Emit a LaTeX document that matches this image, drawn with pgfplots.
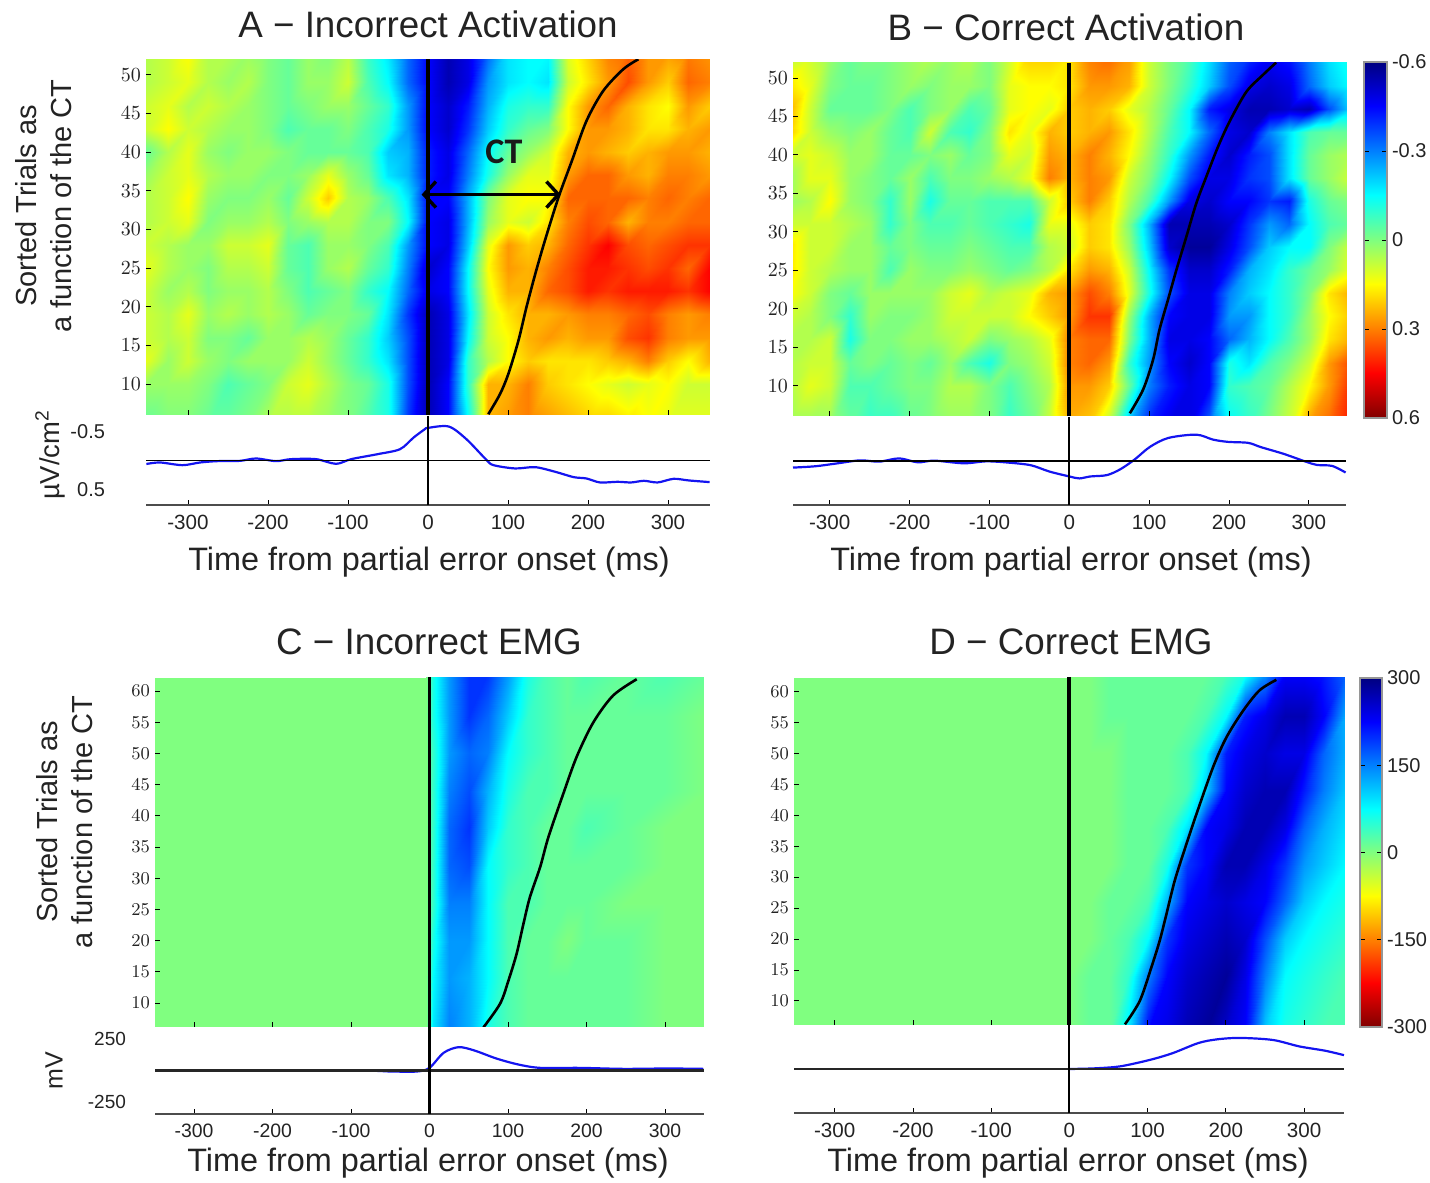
\documentclass[border=0pt]{standalone}
\usepackage{fontspec}
\setmainfont{Liberation Sans}
\newfontfamily\ctfont{Carlito}
\usepackage{pgfplots}
\usepackage{pgfplotstable}
\pgfplotsset{compat=1.18}
\usetikzlibrary{arrows.meta}
\definecolor{txt}{RGB}{35,35,35}
\definecolor{gfr}{RGB}{150,150,150}
\definecolor{wblue}{RGB}{20,20,240}
\definecolor{bgg}{RGB}{128,255,128}

\pgfplotstableread[header=false]{
0 -353 -325 -300 -275 -250 -225 -200 -175 -150 -125 -100 -75 -50 -25 0 25 50 75 100 125 150 175 200 225 250 275 300 325 353
53 2 3 5 2 2 1 0 -1 1 0 2 -3 -6 -11 -15 -18 -16 -11 -6 -5 -5 4 7 10 11 9 9 10 9
49 2 3 4 2 1 2 0 -1 1 1 3 -2 -5 -11 -15 -18 -16 -9 -6 -5 -6 3 6 9 12 9 7 11 10
46 3 4 2 3 2 1 0 -1 0 1 1 -1 -3 -9 -15 -17 -14 -8 -4 -3 -3 5 9 11 8 6 5 9 7
43 3 5 3 2 1 1 0 -2 -1 -1 0 -2 -4 -9 -15 -17 -13 -7 -3 -1 0 5 9 9 8 6 6 8 9
40 -1 2 4 1 0 1 1 0 -1 -1 -1 -2 -7 -8 -14 -16 -11 -5 -1 1 3 8 9 8 7 8 9 9 8
37 1 3 4 2 1 1 0 0 1 4 1 -1 -6 -8 -14 -16 -10 -4 1 4 4 9 11 11 9 8 10 10 9
34 2 3 5 1 0 0 1 -1 3 7 2 1 -2 -6 -15 -15 -8 0 4 5 5 11 11 11 11 10 11 10 11
31 2 3 4 0 1 1 2 0 1 2 2 0 0 -5 -15 -16 -8 1 4 3 6 10 12 11 8 10 10 11 11
28 3 2 1 1 3 3 4 -1 -2 1 1 0 -2 -9 -15 -16 -7 4 9 7 8 11 13 15 12 11 12 13 13
25 4 2 1 0 2 2 3 -1 -2 1 2 -1 -3 -10 -17 -15 -5 5 9 8 10 12 14 14 13 12 13 11 15
22 3 1 2 0 1 1 2 0 -2 -1 0 -3 -5 -11 -16 -15 -5 4 8 8 11 12 14 13 14 14 14 13 15
19 3 2 4 1 2 1 2 1 -1 0 0 -1 -6 -13 -18 -16 -6 3 6 8 8 9 10 10 11 12 10 9 10
16 3 2 3 0 0 -1 1 1 2 1 -1 -3 -7 -12 -18 -16 -5 3 5 8 9 8 9 9 12 13 10 9 9
13 4 1 3 1 0 1 1 1 3 1 -1 -3 -6 -12 -18 -16 -3 2 5 7 6 6 6 7 8 10 7 5 8
10 1 1 1 0 -2 -1 0 3 4 2 0 -1 -4 -12 -18 -15 -3 8 8 10 7 6 5 4 3 4 5 3 3
5 -1 0 0 -1 -1 0 2 2 2 1 0 -2 -4 -13 -18 -15 -5 8 9 10 9 8 7 7 6 5 4 4 4
}\tabA

\pgfplotstableread[header=false]{
0 -350 -325 -300 -275 -250 -225 -200 -175 -150 -125 -100 -75 -50 -25 0 25 50 75 100 125 150 175 200 225 250 275 300 325 350
53 2 3 1 -1 0 0 1 2 1 2 0 3 7 7 6 10 11 9 3 0 -2 -6 -11 -13 -15 -14 -10 -6 -4
49 6 4 0 -1 -1 0 1 0 1 1 0 4 5 5 6 9 9 8 3 0 -3 -7 -12 -16 -17 -16 -11 -7 -5
46 8 3 -1 -1 -1 0 -2 0 1 -2 -1 4 5 4 7 8 7 4 2 -1 -5 -14 -16 -18 -18 -17 -18 -12 -7
43 7 3 1 0 1 -1 -2 3 -2 -3 0 6 4 8 7 8 9 6 2 -2 -5 -11 -16 -17 -10 -6 -2 -1 -1
40 3 4 3 1 1 -1 -1 0 1 -1 0 4 3 9 8 10 8 5 1 -3 -9 -14 -17 -14 -12 -6 -1 1 2
37 1 4 4 1 0 -1 1 -2 0 0 1 2 4 10 8 10 9 3 0 -5 -12 -16 -16 -13 -12 -6 -1 1 3
34 1 2 5 1 0 -3 1 -4 -1 -1 -2 -2 -2 3 7 10 7 2 -2 -9 -16 -17 -15 -15 -13 -14 -4 -1 0
31 3 3 3 2 1 -3 0 -2 -2 -1 -2 -3 -4 4 4 7 6 0 -8 -18 -18 -18 -17 -13 -9 -11 -5 -2 -1
28 6 3 3 1 1 -1 0 -1 -1 0 -1 -2 -2 2 3 7 6 1 -7 -17 -19 -19 -16 -12 -7 -5 -5 0 3
25 6 3 2 1 1 -2 1 0 0 1 0 -1 0 2 6 9 8 3 -5 -13 -17 -17 -14 -8 -6 -3 -1 1 4
22 5 3 0 -1 1 1 1 1 3 4 2 3 4 8 9 12 10 4 -4 -12 -16 -16 -10 -7 -5 -3 0 6 8
19 3 2 0 -3 1 0 0 1 3 3 3 3 5 7 9 13 13 1 -8 -15 -16 -16 -9 -9 -5 -3 1 5 7
16 2 2 3 -4 0 0 1 1 2 3 0 1 2 4 10 11 11 0 -8 -16 -16 -15 -11 -8 -5 -2 1 6 8
13 2 3 3 -1 0 -1 0 -1 1 -2 -4 0 1 3 10 11 9 -3 -9 -15 -17 -15 -4 -6 -2 0 3 9 12
10 2 4 3 -2 -2 -1 0 0 2 2 0 -2 0 2 9 9 7 -1 -10 -14 -16 -15 -3 -2 -1 2 5 9 13
5 1 1 1 -1 -3 -3 -1 0 1 1 0 -3 -1 3 8 7 2 -8 -14 -16 -16 -11 -5 -3 0 3 9 11 14
}\tabB

\pgfplotstableread[header=false]{
0 -4 5 25 50 75 100 125 150 175 200 250 300 352
63 0 -4 -9 -13 -13 -9 -4 -2 -1 -2 -1 -2 -1
56 0 -4 -9 -13 -11 -7 -3 -2 -1 -1 -1 -1 0
50 0 -3 -9 -11 -10 -5 -3 -2 -1 -1 -1 -1 0
44 0 -3 -10 -12 -8 -4 -2 -2 -1 -1 -1 -1 0
38 0 -3 -11 -13 -7 -3 -2 -1 -1 -2 -1 0 0
32 0 -3 -11 -12 -5 -3 -2 -1 -1 -1 -1 0 0
26 0 -3 -10 -10 -5 -2 -2 -1 -1 -1 0 0 0
20 0 -4 -9 -9 -5 -2 -1 -1 0 -1 -1 0 0
14 0 -5 -9 -8 -5 -2 -1 -1 -1 -1 -1 0 0
5 0 -6 -10 -8 -4 -2 -1 -1 -1 -1 -1 0 0
}\tabC

\pgfplotstableread[header=false]{
0 0 25 50 75 100 125 150 175 200 225 250 275 300 325 353
63 0 0 -1 -1 -1 -1 -1 -1 -2 -4 -9 -15 -15 -14 -11
56 0 0 -1 -1 -1 -1 -1 -2 -5 -14 -16 -18 -18 -15 -8
50 0 0 0 -1 -1 -1 -2 -5 -14 -16 -17 -16 -16 -11 -8
44 0 0 0 -1 -1 -1 -2 -7 -15 -17 -18 -18 -14 -10 -7
38 0 0 0 -1 -1 -2 -6 -15 -16 -18 -18 -16 -11 -8 -6
32 0 0 0 -1 -1 -4 -13 -15 -18 -18 -16 -13 -9 -7 -5
26 0 0 -1 -1 -2 -8 -15 -16 -17 -16 -15 -11 -7 -5 -4
20 0 0 -1 -2 -5 -13 -16 -17 -18 -17 -12 -7 -5 -4 -3
14 0 -1 -1 -3 -10 -15 -17 -18 -19 -16 -10 -5 -4 -3 -2
5 0 -1 -1 -6 -15 -16 -18 -19 -17 -15 -7 -4 -3 -2 -2
}\tabD

\pgfplotstableread[header=false]{
0 0 1
-20 -20 -20
-15 -15 -15
-10 -10 -10
-5 -5 -5
0 0 0
5 5 5
10 10 10
15 15 15
20 20 20
}\tabBar

\newcommand\BuildMesh[2]{%
 \pgfplotstablegetrowsof{#1}\pgfmathtruncatemacro\nR{\pgfplotsretval-1}%
 \pgfplotstablegetcolsof{#1}\pgfmathtruncatemacro\nC{\pgfplotsretval-1}%
 \gdef#2{}%
 \pgfplotsforeachungrouped \rr in {1,...,\nR}{%
  \pgfplotstablegetelem{\rr}{[index]0}\of{#1}\let\YY\pgfplotsretval
  \pgfplotsforeachungrouped \cc in {1,...,\nC}{%
   \pgfplotstablegetelem{0}{[index]\cc}\of{#1}\let\XX\pgfplotsretval
   \pgfplotstablegetelem{\rr}{[index]\cc}\of{#1}\let\MM\pgfplotsretval
   \xdef#2{#2 (\XX,\YY) [\MM]}%
  }}}
\BuildMesh{\tabA}{\meshA}
\BuildMesh{\tabB}{\meshB}
\BuildMesh{\tabC}{\meshC}
\BuildMesh{\tabD}{\meshD}
\BuildMesh{\tabBar}{\meshBar}
\newcommand\Heat[2]{\edef\tmpplot{\noexpand\addplot[surf,shader=interp,mesh/cols=#1,point meta=explicit] coordinates {#2};}\tmpplot}

\pgfplotsset{
 every axis/.append style={scale only axis, anchor=south west, colormap/jet,
   point meta min=-20, point meta max=20, tick align=inside,
   major tick length=2.5pt, tick style={black, line width=.4pt},
   ticklabel style={text=txt}},
 heat/.style={axis on top, axis line style={draw=none}, xtick={-300,-200,-100,0,100,200,300},
   xticklabels={}, ytick pos=left, xtick pos=bottom, y tick label style={font=\fontsize{10}{12}\selectfont, xshift=1pt}},
 wave/.style={separate axis lines, axis x line*=bottom, axis y line*=left, y axis line style={draw=none},
   x axis line style={draw=black!70, line width=.7pt}, ytick style={draw=none},
   xtick={-300,-200,-100,0,100,200,300}, xticklabels={-300,-200,-100,0,100,200,300},
   xticklabel style={font=\fontsize{10.3}{12}\selectfont, yshift=-1.5pt}, axis on top=false, clip=false},
 cbar/.style={xtick=\empty, ytick={-20,-10,0,10,20}, yticklabel pos=right, y dir=reverse, xmin=0, xmax=1, ymin=-20, ymax=20,
   axis line style={draw=gfr, line width=.6pt}, axis on top,
   y tick label style={font=\fontsize{10}{12}\selectfont, xshift=-1pt}},
}
\newcommand\CT[1]{\addplot[black, line width=1.3pt, smooth] coordinates {#1};}
\newcommand\Zero[2]{\addplot[black, line width=1.9pt] coordinates {(0,#1)(0,#2)};}
\def\PXW{0.5pt}
\begin{document}
\begin{tikzpicture}[x=1pt,y=1pt]
\path[use as bounding box] (0,0) rectangle (715,591.5);

% ---- A heat
\begin{axis}[heat, at={(73pt,384pt)}, width=282pt, height=177.5pt, xmin=-352.5, xmax=352.5, ymin=6, ymax=51.9, ytick={10,15,...,50}]
\Heat{29}{\meshA}
\Zero{6}{52}
\CT{(75.4,6.1)(90,8.7)(100.4,11.3)(113,15.6)(123,19.9)(134,24.2)(146,28.5)(163,34.1)(180,38.9)(198,44)(219,47.9)(244,50.7)(263,52)}
\draw[{Straight Barb[length=6pt,width=13pt,line width=1.7pt]}-{Straight Barb[length=6pt,width=13pt,line width=1.7pt]}, line width=1.7pt, black] (axis cs:-8,34.5) -- (axis cs:166,34.5);
\node[font=\ctfont\bfseries\fontsize{18}{20}\selectfont, text=black!90] at (axis cs:95,40) {CT};
\end{axis}
% ---- A wave
\begin{axis}[wave, at={(73pt,339pt)}, width=282pt, height=44.5pt, xmin=-352.5, xmax=352.5, ymin=-.76, ymax=.76, y dir=reverse,
  ytick={-.5,.5}, yticklabels={-0.5,0.5}, y tick label style={font=\fontsize{10}{12}\selectfont, xshift=-17pt}]
\addplot[wblue, line width=1.1pt, smooth] coordinates {(-352,.06)(-335,.034)(-307,.08)(-285,.034)(-263,.011)(-235,.006)(-215,-.034)(-190,.011)(-171,-.023)(-140,-.023)(-115,.057)(-96,-.023)(-63,-.108)(-35,-.193)(-18,-.392)(-4,-.534)(0,-.557)(26,-.58)(48,-.364)(73,-.011)(82,.08)(109,.136)(134,.114)(159,.193)(182,.284)(198,.307)(215,.375)(237,.364)(254,.375)(270,.347)(287,.375)(307,.313)(326,.341)(352,.369)};
\addplot[black, line width=.9pt] coordinates {(-352.5,0)(352.5,0)};
\addplot[black, line width=1.1pt] coordinates {(0,-.76)(0,.76)};
\end{axis}

% ---- B heat
\begin{axis}[heat, at={(396.5pt,383.5pt)}, width=276.5pt, height=176.5pt, xmin=-346, xmax=346.5, ymin=6.05, ymax=51.95, ytick={10,15,...,50}]
\Heat{29}{\meshB}
\Zero{6}{52}
\CT{(75.8,6.4)(92.5,9.5)(105,13.4)(113,17.3)(123.7,21.2)(134,25)(146.7,29.4)(159,33.7)(171.7,37.2)(186,41)(201,44.4)(221.7,48.2)(242.5,50.4)(259,52)}
\end{axis}
% ---- B wave
\begin{axis}[wave, at={(396.5pt,339pt)}, width=276.5pt, height=44pt, xmin=-346, xmax=346.5, ymin=-.76, ymax=.76, y dir=reverse, ytick=\empty]
\addplot[wblue, line width=1.1pt, smooth] coordinates {(-346,.114)(-318,.091)(-290,.04)(-262,-.011)(-238,.011)(-213,-.045)(-190,.023)(-169,-.006)(-132,.04)(-104,.006)(-76,.028)(-48,.074)(-25,.182)(0,.267)(12.5,.301)(26.5,.267)(47,.244)(64,.142)(82,-.028)(101,-.244)(124,-.398)(159,-.455)(180,-.369)(199,-.33)(224,-.313)(240,-.239)(268,-.125)(296,.011)(310,.068)(329,.085)(346,.199)};
\addplot[black, line width=.9pt] coordinates {(-346,0)(346.5,0)};
\addplot[black, line width=1.1pt] coordinates {(0,-.76)(0,.76)};
\end{axis}

% ---- top colour bar
\begin{axis}[cbar, at={(682pt,382.5pt)}, width=11.5pt, height=178pt, yticklabels={-0.6,-0.3,0,0.3,0.6}]
\Heat{2}{\meshBar}
\end{axis}

% ---- C heat
\begin{axis}[heat, at={(77.5pt,78pt)}, width=274.5pt, height=174.5pt, xmin=-349.7, xmax=349.7, ymin=6.15, ymax=62.1, ytick={10,15,...,60},
  axis background/.style={fill=bgg}, y tick label style={font=\fontsize{9.3}{11}\selectfont}]
\Heat{13}{\meshC}
\Zero{6}{63}
\CT{(68.8,6.1)(90,9.9)(100.6,13.6)(111,17.9)(119.7,22.7)(128,27)(141,31.8)(151.5,36.6)(170.6,43.6)(187.6,49.5)(208.8,55)(234,59.3)(264,61.9)}
\end{axis}
% ---- C wave
\begin{axis}[wave, at={(77.5pt,34.5pt)}, width=274.5pt, height=43.5pt, xmin=-349.7, xmax=349.7, ymin=-347, ymax=347,
  ytick={-250,250}, yticklabels={-250,250}, y tick label style={font=\fontsize{9.5}{11}\selectfont, xshift=-11pt}, xticklabel style={font=\fontsize{9.7}{12}\selectfont}]
\addplot[wblue, line width=1.1pt, smooth] coordinates {(-349,0)(-100,0)(-49,-8)(-16,-8)(0,21)(18,141)(37,186)(57,160)(85,96)(113,48)(141,21)(191,21)(247,13)(303,16)(349,13)};
\addplot[black!85, line width=1.1pt] coordinates {(-349.7,0)(349.7,0)};
\addplot[black, line width=1.1pt] coordinates {(0,-347)(0,347)};
\end{axis}

% ---- D heat
\begin{axis}[heat, at={(397pt,79pt)}, width=275pt, height=173.5pt, xmin=-352, xmax=351, ymin=6.1, ymax=62.2, ytick={10,15,...,60},
  axis background/.style={fill=bgg}, y tick label style={font=\fontsize{9.3}{11}\selectfont}]
\Heat{15}{\meshD}
\Zero{6}{63}
\CT{(71,6.2)(90,10)(105,15.5)(115.6,19.8)(124,24)(134.8,29.5)(149.7,35.4)(162.4,40.2)(183.7,47.8)(200.7,52.6)(222,56.9)(243,60.2)(264.5,61.9)}
\end{axis}
% ---- D wave
\begin{axis}[wave, at={(397pt,35pt)}, width=275pt, height=44pt, xmin=-352, xmax=351, ymin=-347, ymax=347, ytick=\empty]
\addplot[wblue, line width=1.1pt, smooth] coordinates {(0,0)(32,5)(65,21)(103,72)(132,125)(165,205)(189,234)(218,245)(260,229)(294,178)(327,144)(351,109)};
\addplot[black!85, line width=1.1pt] coordinates {(-352,0)(351,0)};
\addplot[black, line width=1.1pt] coordinates {(0,-347)(0,347)};
\end{axis}

% ---- bottom colour bar
\begin{axis}[cbar, at={(680pt,78pt)}, width=11pt, height=174.5pt, yticklabels={300,150,0,-150,-300}]
\Heat{2}{\meshBar}
\end{axis}

% ---- texts
\tikzset{ttl/.style={font=\fontsize{18.4}{22}\selectfont, text=txt, anchor=center},
  xl/.style={font=\fontsize{16.2}{20}\selectfont, text=txt, anchor=center},
  yl/.style={font=\fontsize{14.5}{17.5}\selectfont, text=txt, anchor=center, rotate=90, align=center}}
\node[ttl] at (214,579.5) {A − Incorrect Activation};
\node[ttl] at (533,578) {B − Correct Activation};
\node[ttl] at (214.5,270.5) {C − Incorrect EMG};
\node[ttl] at (535.5,270.5) {D − Correct EMG};
\node[xl] at (214.5,310.5) {Time from partial error onset (ms)};
\node[xl] at (535.5,310.5) {Time from partial error onset (ms)};
\node[xl] at (214,10) {Time from partial error onset (ms)};
\node[xl] at (534,10) {Time from partial error onset (ms)};
\node[yl] at (22,488.5) {Sorted Trials as\\a function of the CT};
\node[yl] at (32.5,180.5) {Sorted Trials as\\a function of the CT};
\node[font=\fontsize{13.7}{16}\selectfont, text=txt, rotate=90] at (25,364) {µV/cm\textsuperscript{2}};
\node[font=\fontsize{12.5}{15}\selectfont, text=txt, rotate=90] at (27,56) {mV};
\end{tikzpicture}
\end{document}
